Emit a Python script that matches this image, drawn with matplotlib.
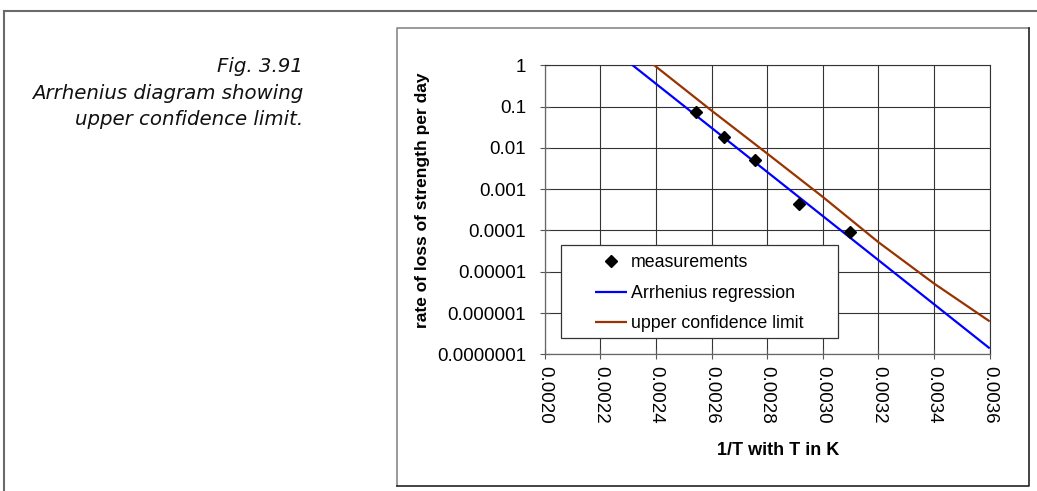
"""Arrhenius diagram with upper confidence limit (Fig. 3.91)."""
import matplotlib
matplotlib.use("Agg")
import matplotlib.pyplot as plt
from matplotlib.lines import Line2D
from matplotlib.patches import Rectangle

plt.rcParams["font.family"] = ["Liberation Sans", "DejaVu Sans"]

# measured points: 1/T (T in K) vs rate of loss of strength per day
inv_T = [0.002545, 0.002646, 0.002755, 0.002915, 0.003096]
rate = [0.0728, 0.0184, 0.0050, 0.000446, 0.0000935]

# Arrhenius regression line (straight in log space)
reg_x = [0.0020, 0.0036]
reg_y = [48.9, 1.4e-7]

# upper confidence limit, read at the grid lines
ucl_x = [0.0022, 0.0024, 0.0026, 0.0028, 0.0030, 0.0032, 0.0034, 0.0036]
ucl_y = [10.5, 0.93, 0.080, 0.0073, 0.00065, 5.2e-5, 5.2e-6, 6.3e-7]

x_ticks = [0.0020, 0.0022, 0.0024, 0.0026, 0.0028, 0.0030, 0.0032, 0.0034, 0.0036]
x_labels = ["0.0020", "0.0022", "0.0024", "0.0026", "0.0028",
            "0.0030", "0.0032", "0.0034", "0.0036"]
y_ticks = [1, 0.1, 0.01, 0.001, 0.0001, 0.00001, 0.000001, 0.0000001]
y_labels = ["1", "0.1", "0.01", "0.001", "0.0001", "0.00001",
            "0.000001", "0.0000001"]

caption = ["Fig. 3.91", "Arrhenius diagram showing", "upper confidence limit."]

W, H = 1037, 491
fig = plt.figure(figsize=(W / 100, H / 100), dpi=100)
ax = fig.add_axes([544.7 / W, 1 - 354.4 / H, 445 / W, 289.1 / H])

ax.plot(reg_x, reg_y, color="#0000FF", lw=1.6, label="Arrhenius regression",
        zorder=3, solid_capstyle="butt")
ax.plot(ucl_x, ucl_y, color="#993300", lw=1.6, label="upper confidence limit",
        zorder=3, solid_capstyle="butt")
ax.plot(inv_T, rate, ls="none", marker="D", ms=6, color="black",
        label="measurements", zorder=4)

ax.set_yscale("log")
ax.set_xlim(0.0020, 0.0036)
ax.set_ylim(1e-7, 1)
ax.set_xticks(x_ticks)
ax.set_xticklabels(x_labels, rotation=270, fontsize=13.5)
ax.set_yticks(y_ticks)
ax.set_yticklabels(y_labels, fontsize=13.5)
ax.minorticks_off()
ax.tick_params(axis="both", direction="inout", length=7, width=0.8,
               color="#555555")
ax.tick_params(axis="y", pad=10)
ax.tick_params(axis="x", pad=5)

ax.grid(True, color="#333333", lw=0.8)
for side in ["top", "right"]:
    ax.spines[side].set_color("#333333")
    ax.spines[side].set_linewidth(0.8)
for side in ["left", "bottom"]:
    ax.spines[side].set_color("#666666")
    ax.spines[side].set_linewidth(0.9)

ax.set_ylabel("rate of loss of strength per day", fontsize=12.5,
              fontweight="bold")
ax.yaxis.set_label_coords(-0.258, 0.532)
ax.set_xlabel("1/T with T in K", fontsize=13, fontweight="bold")
ax.xaxis.set_label_coords(0.524, -0.303)

# legend: white box drawn separately, entries placed inside it
ax.add_patch(Rectangle((0.036, 0.0578), 0.622, 0.3206, transform=ax.transAxes,
                       facecolor="white", edgecolor="#333333", lw=0.9,
                       zorder=5))
handles, labels = ax.get_legend_handles_labels()
order = [2, 0, 1]
leg = ax.legend([handles[i] for i in order], [labels[i] for i in order],
                loc="upper left", bbox_to_anchor=(0.113, 0.346),
                frameon=False, borderpad=0, borderaxespad=0,
                fontsize=12.8, handlelength=1.8, handletextpad=0.2,
                labelspacing=0.76)
leg.set_zorder(6)

# caption at the left
for i, line in enumerate(caption):
    fig.text(303 / W, 1 - (72.3 + 26.5 * i) / H, line, ha="right",
             va="baseline", fontsize=14.2, style="italic",
             family="DejaVu Sans", color="#111111")

# page frame and chart box
frame_kw = dict(transform=fig.transFigure, lw=1.5)
fig.add_artist(Line2D([4 / W, 4 / W], [0, 1 - 10.7 / H], color="#6a6a6a", **frame_kw))
fig.add_artist(Line2D([4 / W, 1], [1 - 10.7 / H, 1 - 10.7 / H], color="#6a6a6a", **frame_kw))
bx0, bx1, by0, by1 = 397 / W, 1029 / W, 1 - 486 / H, 1 - 28 / H
fig.add_artist(Line2D([bx0, bx0, bx1], [by0, by1, by1], color="#888888", lw=1.2,
                      transform=fig.transFigure))
fig.add_artist(Line2D([bx0, bx1, bx1], [by0, by0, by1], color="#222222", lw=1.2,
                      transform=fig.transFigure))

fig.savefig("out.png", dpi=100)
